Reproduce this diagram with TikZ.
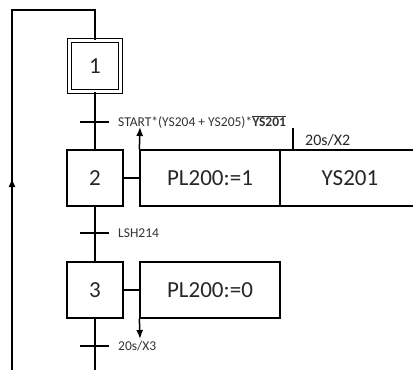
\documentclass[tikz,border=0pt]{standalone}
\usepackage{fontspec}
\setmainfont{Carlito}
\usetikzlibrary{arrows.meta,positioning}

\begin{document}
\begin{tikzpicture}[
  x=1pt, y=-1pt,
  font=\fontsize{23}{26}\selectfont,
  >={Latex[length=9pt,width=7pt]},
  stepbox/.style={rectangle, draw=black, line width=1.2pt, minimum width=56pt,
                  minimum height=56pt, inner sep=0pt, text=black!85},
  initstep/.style={stepbox, minimum width=51pt, minimum height=51pt,
                   double, double distance=2.4pt},
  action/.style={rectangle, draw=black, line width=1.3pt, minimum width=140pt,
                 minimum height=56pt, inner sep=0pt, text=black!85},
  cond/.style={anchor=west, inner sep=1pt, text=black!80,
               font=\fontsize{13.5}{15}\selectfont},
  flow/.style={line width=1.5pt, draw=black},
  tick/.style={line width=2.4pt, draw=black}
]
\useasboundingbox (0,0) rectangle (413,370);

% Steps
\node[initstep] (s1) at (95,66) {1};
\node[stepbox] (s2) at (95,178) {2};
\node[stepbox] (s3) at (95,290) {3};

% Actions
\node[action] (a2) at (210,178) {PL200:=1};
\node[action] (a2b) at (350,178) {YS201};
\node[action] (a3) at (210,290) {PL200:=0};

% Transitions
\coordinate (t1) at (95,122);
\coordinate (t2) at (95,233);
\coordinate (t3) at (95,346);
\coordinate (bot) at (95,372);

\draw[flow] (s1) -- (s2);
\draw[flow] (s2) -- (s3);
\draw[flow] (s3) -- (bot);
\foreach \t in {t1,t2,t3}
  \draw[tick] ([xshift=-15pt]\t) -- ([xshift=14pt]\t);

\node[cond] (c1) at (117,122)
  {START*(YS204 + YS205)*$\overline{\mbox{\bfseries YS201}}$};
\node[cond] (c2) at (117,233) {LSH214};
\node[cond] (c3) at (117,346) {20s/X3};

% Action links
\draw[flow] (s2.east) -- (a2.west);
\draw[flow] (s3.east) -- (a3.west);
\coordinate (up2) at (140,127);
\draw[flow,->] (a2.north west) -- (up2);
\coordinate (dn3) at (140,339);
\draw[flow,->] (a3.south west) -- (dn3);

% Delay on YS201
\coordinate (d2) at (293,128);
\draw[flow] (d2) -- (d2 |- a2b.north);
\node[anchor=west, inner sep=1pt, text=black!85, font=\fontsize{16}{18}\selectfont]
  (lbl) at (304,140) {20s/X2};

% Loop back to initial step
\coordinate (lt) at (12,10);
\coordinate (lb) at (12,372);
\coordinate (rt) at (95,10);
\coordinate (mid) at (12,178);
\draw[flow] (lb) -- (lt) -- (rt) -- (s1.north);
\draw[flow,->] (lb) -- (mid);

\end{tikzpicture}
\end{document}
